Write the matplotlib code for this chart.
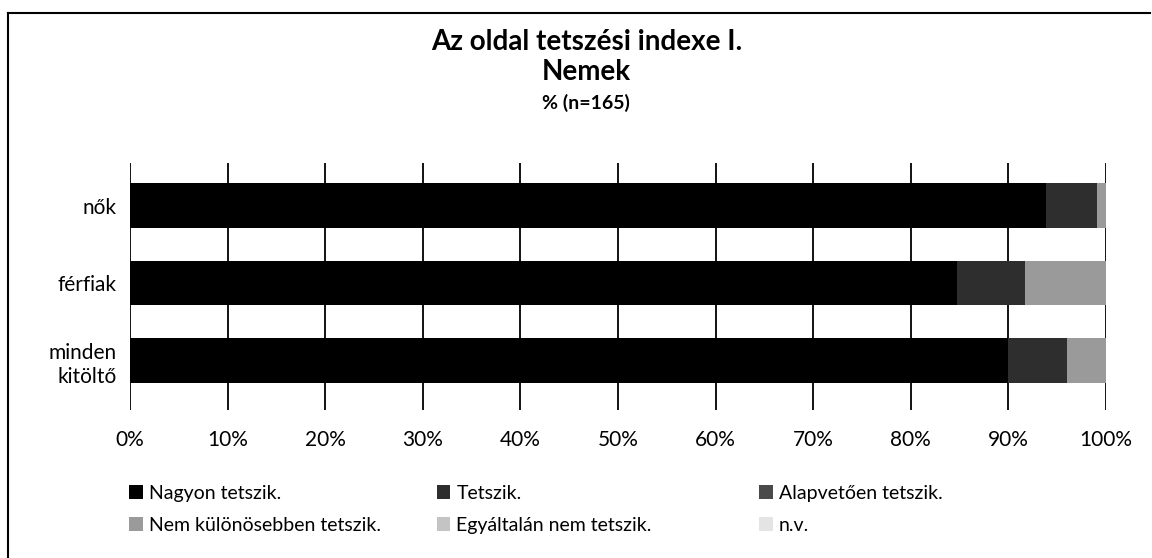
import matplotlib.pyplot as plt
from matplotlib.patches import Patch
from matplotlib.lines import Line2D

plt.rcParams["font.family"] = ["Lato", "DejaVu Sans"]

groups = ["nők", "férfiak", "minden\nkitöltő"]
answers = ["Nagyon tetszik.", "Tetszik.", "Alapvetően tetszik.",
           "Nem különösebben tetszik.", "Egyáltalán nem tetszik.", "n.v."]
# percentages per group, in the order of answers
nagyon = [93.9, 84.7, 90.0]
tetszik = [5.2, 7.0, 6.0]
alapveto = [0.0, 0.0, 0.0]
nem_kul = [0.9, 8.3, 4.0]
egyaltalan = [0.0, 0.0, 0.0]
nv = [0.0, 0.0, 0.0]
xticks = list(range(0, 101, 10))
xlabels = [f"{t}%" for t in xticks]

series = [nagyon, tetszik, alapveto, nem_kul, egyaltalan, nv]
colors = ["#000000", "#2e2e2e", "#4a4a4a", "#9a9a9a", "#c4c4c4", "#e4e4e4"]

fig = plt.figure(figsize=(11.52, 5.58), dpi=100)
ax = fig.add_axes([0.113, 0.265, 0.847, 0.443])

ypos = list(range(len(groups)))
left = [0.0] * len(groups)
handles = []
for vals, col, name in zip(series, colors, answers):
    ax.barh(ypos, vals, left=left, height=0.57, color=col, zorder=3)
    left = [a + b for a, b in zip(left, vals)]
    handles.append(Patch(facecolor=col, edgecolor="none", label=name))

ax.set_xlim(0, 100)
ax.set_ylim(2.64, -0.55)
ax.set_yticks(ypos)
ax.set_yticklabels(groups, fontsize=15, linespacing=1.25)
ax.set_xticks(xticks)
ax.set_xticklabels(xlabels, fontsize=15)
ax.tick_params(length=0, pad=14)
ax.tick_params(axis="y", pad=10)
for x in xticks:
    ax.axvline(x, color="black", lw=1.3, zorder=1)
for s in ax.spines.values():
    s.set_visible(False)

fig.text(0.509, 0.925, "Az oldal tetszési indexe I.", ha="center", va="center",
         fontsize=20, fontweight="bold")
fig.text(0.509, 0.871, "Nemek", ha="center", va="center",
         fontsize=20, fontweight="bold")
fig.text(0.509, 0.815, "% (n=165)", ha="center", va="center",
         fontsize=14, fontweight="bold")

# legend split into three columns placed like the original
col_x = [0.097, 0.364, 0.644]
for i, cx in enumerate(col_x):
    fig.legend(handles=[handles[i], handles[i + 3]], loc="upper left",
               bbox_to_anchor=(cx, 0.163), frameon=False, fontsize=14,
               handlelength=0.7, handleheight=0.7, handletextpad=0.3,
               labelspacing=0.8)

# outer frame lines (top and left) as in the scanned chart
fig.add_artist(Line2D([0.007, 0.998], [0.977, 0.977], transform=fig.transFigure,
                      color="black", lw=1.5))
fig.add_artist(Line2D([0.007, 0.007], [0.0, 0.977], transform=fig.transFigure,
                      color="black", lw=1.5))

fig.savefig("out.png", dpi=100)
